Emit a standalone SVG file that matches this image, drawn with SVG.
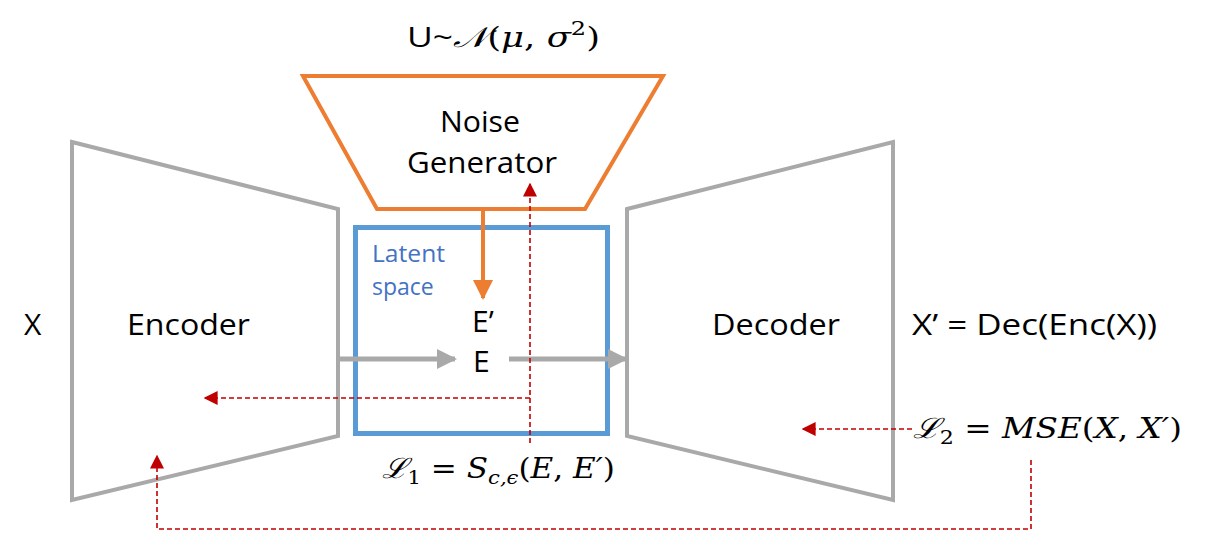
<svg xmlns="http://www.w3.org/2000/svg" width="1212" height="533" viewBox="0 0 1212 533">
<defs>
<style>
.lbl{font-family:"Open Sans","Liberation Sans",sans-serif;font-size:30px;fill:#000}
.m{font-family:"DejaVu Serif","Liberation Serif",serif;font-size:28px;fill:#000}
.i{font-style:italic}
.gray{fill:none;stroke:#A9A9A9;stroke-width:4}
.red{fill:none;stroke:#C00000;stroke-width:1.6;stroke-dasharray:5 3}
.garr{stroke:#A9A9A9;stroke-width:5;fill:none}
.lat{font-family:"Open Sans","Liberation Sans",sans-serif;font-size:23px;fill:#4472C4}
</style>
<marker id="rh" viewBox="0 0 10 10" refX="9" refY="5" markerWidth="14" markerHeight="14" markerUnits="userSpaceOnUse" orient="auto">
<path d="M0,0 L10,5 L0,10 z" fill="#C00000"/>
</marker>
<marker id="gh" viewBox="0 0 10 10" refX="9" refY="5" markerWidth="20" markerHeight="20" markerUnits="userSpaceOnUse" orient="auto">
<path d="M0,0 L10,5 L0,10 z" fill="#A9A9A9"/>
</marker>
<marker id="oh" viewBox="0 0 10 10" refX="9" refY="5" markerWidth="20" markerHeight="20" markerUnits="userSpaceOnUse" orient="auto">
<path d="M0,0 L10,5 L0,10 z" fill="#ED7D31"/>
</marker>
</defs>
<rect width="1212" height="533" fill="#fff"/>
<g id="encoder">
<polygon class="gray" points="72,142 338,209 338,436 72,500"/>
<text class="lbl" x="127" y="335" textLength="123" lengthAdjust="spacingAndGlyphs">Encoder</text>
</g>
<g id="decoder">
<polygon class="gray" points="627,209 893,142 893,500 627,436"/>
<text class="lbl" x="712" y="335" textLength="128" lengthAdjust="spacingAndGlyphs">Decoder</text>
</g>
<g id="noise">
<polygon points="303,76 663,76 585,209 377,209" fill="none" stroke="#ED7D31" stroke-width="4"/>
<text class="lbl" x="440" y="132" textLength="80" lengthAdjust="spacingAndGlyphs">Noise</text>
<text class="lbl" x="407" y="173" textLength="150" lengthAdjust="spacingAndGlyphs">Generator</text>
</g>
<g id="latent">
<rect x="355.5" y="227.5" width="252" height="206" fill="none" stroke="#5B9BD5" stroke-width="5"/>
<text class="lat" x="372" y="262" textLength="73" lengthAdjust="spacingAndGlyphs">Latent</text>
<text class="lat" x="372" y="295">space</text>
<text class="lbl" x="472" y="332">E’</text>
<text class="lbl" x="473" y="372">E</text>
</g>
<g id="x-in"><text class="lbl" x="24" y="335">X</text></g>
<g id="x-out"><text class="lbl" x="912" y="335" textLength="245" lengthAdjust="spacingAndGlyphs">X’ = Dec(Enc(X))</text></g>
<g id="noise-dist"><text class="m" x="407" y="47" textLength="193" lengthAdjust="spacingAndGlyphs"><tspan font-family="Open Sans,sans-serif">U~</tspan><tspan class="i">𝒩</tspan>(<tspan class="i">μ</tspan>, <tspan class="i">σ</tspan><tspan font-size="19" dy="-12">2</tspan><tspan dy="12">)</tspan></text></g>
<g id="loss1"><text class="m" x="382" y="478" textLength="233" lengthAdjust="spacingAndGlyphs"><tspan class="i">ℒ</tspan><tspan font-size="19" dy="6">1</tspan><tspan dy="-6"> = </tspan><tspan class="i">S</tspan><tspan class="i" font-size="19" dy="6">c,ϵ</tspan><tspan dy="-6">(</tspan><tspan class="i">E</tspan>, <tspan class="i">E′</tspan>)</text></g>
<g id="loss2"><text class="m" x="913" y="438" textLength="269" lengthAdjust="spacingAndGlyphs"><tspan class="i">ℒ</tspan><tspan font-size="19" dy="6">2</tspan><tspan dy="-6"> = </tspan><tspan class="i">MSE</tspan>(<tspan class="i">X</tspan>, <tspan class="i">X′</tspan>)</text></g>
<g id="connectors">
<line x1="483" y1="209" x2="483" y2="298" stroke="#ED7D31" stroke-width="4" marker-end="url(#oh)"/>
<line class="garr" x1="338" y1="359" x2="455" y2="359" marker-end="url(#gh)"/>
<line class="garr" x1="509" y1="359" x2="626" y2="359" marker-end="url(#gh)"/>
<polyline class="red" points="530,443 530,184" marker-end="url(#rh)"/>
<polyline class="red" points="530,398 205,398" marker-end="url(#rh)"/>
<polyline class="red" points="912,429 803,429" marker-end="url(#rh)"/>
<polyline class="red" points="1031,460 1031,529 157,529 157,456" marker-end="url(#rh)"/>
</g>
</svg>
